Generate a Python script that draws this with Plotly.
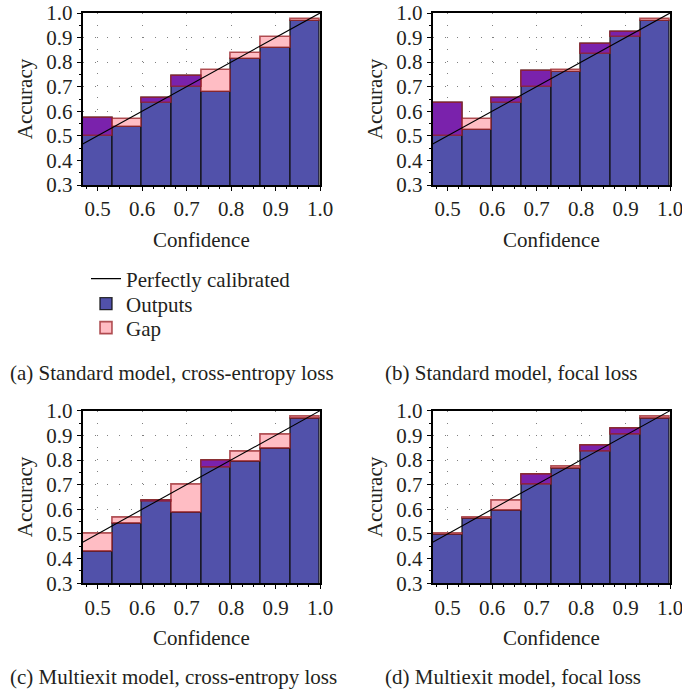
import plotly.graph_objects as go

# ---- data ----
n_bins = 15
shown_bins = list(range(7, 15))          # bins 8..15 of 15 equal-width bins
bin_width = 1.0 / n_bins
bin_centers = [(b + 0.5) / n_bins for b in shown_bins]

acc_a  = [0.571, 0.537, 0.653, 0.744, 0.680, 0.812, 0.856, 0.966]
conf_a = [0.500, 0.567, 0.633, 0.700, 0.768, 0.836, 0.903, 0.977]

acc_b  = [0.635, 0.525, 0.653, 0.765, 0.758, 0.872, 0.922, 0.966]
conf_b = [0.500, 0.567, 0.633, 0.700, 0.767, 0.833, 0.903, 0.977]

acc_c  = [0.428, 0.543, 0.637, 0.586, 0.796, 0.793, 0.845, 0.966]
conf_c = [0.500, 0.566, 0.632, 0.700, 0.769, 0.834, 0.901, 0.976]

acc_d  = [0.497, 0.563, 0.593, 0.739, 0.766, 0.858, 0.928, 0.966]
conf_d = [0.503, 0.568, 0.634, 0.700, 0.772, 0.832, 0.902, 0.976]

panels = [
    ("(a) Standard model, cross-entropy loss", acc_a, conf_a),
    ("(b) Standard model, focal loss", acc_b, conf_b),
    ("(c) Multiexit model, cross-entropy loss", acc_c, conf_c),
    ("(d) Multiexit model, focal loss", acc_d, conf_d),
]

x_ticks = [0.5, 0.6, 0.7, 0.8, 0.9, 1.0]
y_ticks = [0.3, 0.4, 0.5, 0.6, 0.7, 0.8, 0.9, 1.0]
x_range = [7 / 15, 1.0]
y_range = [0.3, 1.0]

# ---- style ----
FONT = "Liberation Serif"
TXT = "#231f20"
BLUE = "#5151aa"
PINK = "#ffbdc4"
PURPLE = "#7a22ac"
GAP_EDGE = "rgba(150,30,35,0.75)"

W, H = 682, 691


def px(xp):
    return xp / W


def py(yp):
    return 1 - yp / H


x_domains = [[px(82.7), px(320)], [px(432.7), px(670)]]
y_domains = [[py(185), py(13)], [py(583.3), py(410.7)]]

fig = go.Figure()

for i, (caption, acc, conf) in enumerate(panels):
    ax = "" if i == 0 else str(i + 1)
    xref, yref = "x" + ax, "y" + ax
    first = (i == 0)

    fig.add_trace(go.Bar(
        x=bin_centers, y=acc, width=bin_width,
        marker=dict(color=BLUE, line=dict(color="rgba(15,15,15,0.85)", width=1.4)),
        name="Outputs", legend="legend2", showlegend=first,
        xaxis=xref, yaxis=yref,
    ))

    pos_x = [c for c, a, f in zip(bin_centers, acc, conf) if f >= a]
    pos_b = [a for a, f in zip(acc, conf) if f >= a]
    pos_h = [f - a for a, f in zip(acc, conf) if f >= a]
    neg_x = [c for c, a, f in zip(bin_centers, acc, conf) if f < a]
    neg_b = [a for a, f in zip(acc, conf) if f < a]
    neg_h = [f - a for a, f in zip(acc, conf) if f < a]

    fig.add_trace(go.Bar(
        x=pos_x, y=pos_h, base=pos_b, width=bin_width,
        marker=dict(color=PINK, line=dict(color=GAP_EDGE, width=1.6)),
        name="Gap", legend="legend3", showlegend=first,
        xaxis=xref, yaxis=yref,
    ))
    fig.add_trace(go.Bar(
        x=neg_x, y=neg_h, base=neg_b, width=bin_width,
        marker=dict(color=PURPLE, line=dict(color=GAP_EDGE, width=1.6)),
        name="Gap", showlegend=False,
        xaxis=xref, yaxis=yref,
    ))

    fig.add_trace(go.Scatter(
        x=x_range, y=x_range, mode="lines",
        line=dict(color="black", width=1.1),
        name="Perfectly calibrated", legend="legend", showlegend=first,
        xaxis=xref, yaxis=yref,
    ))

    col, row = i % 2, i // 2
    axis_common = dict(
        showline=True, linecolor="black", linewidth=2, mirror=True,
        ticks="outside", ticklen=4, tickcolor="black", tickwidth=1,
        showgrid=True, gridcolor="#808080", gridwidth=1, griddash="1px,11px",
        zeroline=False, tickformat=".1f", automargin=False,
        ticklabeloverflow="allow",
        tickfont=dict(family=FONT, size=21, color=TXT),
    )
    fig.layout["xaxis" + ax] = dict(
        axis_common, domain=x_domains[col], range=x_range, anchor=yref,
        tickvals=x_ticks,
        minor=dict(dtick=0.025, ticks="outside", ticklen=2, tickcolor="black", showgrid=False),
        title=dict(text="Confidence", font=dict(family=FONT, size=21, color=TXT), standoff=12),
    )
    fig.layout["yaxis" + ax] = dict(
        axis_common, domain=y_domains[row], range=y_range, anchor=xref,
        tickvals=y_ticks,
        minor=dict(dtick=0.05, ticks="outside", ticklen=2, tickcolor="black", showgrid=False),
        title=dict(text="Accuracy", font=dict(family=FONT, size=21, color=TXT), standoff=8),
    )

    cap_x = px(8) if col == 0 else px(383)
    cap_y = py(373) if row == 0 else py(677)
    fig.add_annotation(
        text=caption, xref="paper", yref="paper", x=cap_x, y=cap_y,
        xanchor="left", yanchor="middle", showarrow=False,
        font=dict(family=FONT, size=21, color=TXT),
    )

legend_common = dict(
    x=px(86), xanchor="left", yanchor="middle",
    bgcolor="rgba(0,0,0,0)", borderwidth=0,
    font=dict(family=FONT, size=21, color=TXT),
    itemwidth=30,
)
fig.update_layout(
    width=W, height=H,
    margin=dict(l=0, r=0, t=0, b=0),
    paper_bgcolor="white", plot_bgcolor="white",
    barmode="overlay", bargap=0,
    font=dict(family=FONT, size=21, color=TXT),
    legend=dict(legend_common, y=py(279)),
    legend2=dict(legend_common, y=py(304)),
    legend3=dict(legend_common, y=py(328)),
)

# remove the browser's default 8px page margin so the figure fills the window
fig.write_html(
    "out.html",
    config={"displayModeBar": False},
    post_script="document.body.style.margin='0px';",
)
